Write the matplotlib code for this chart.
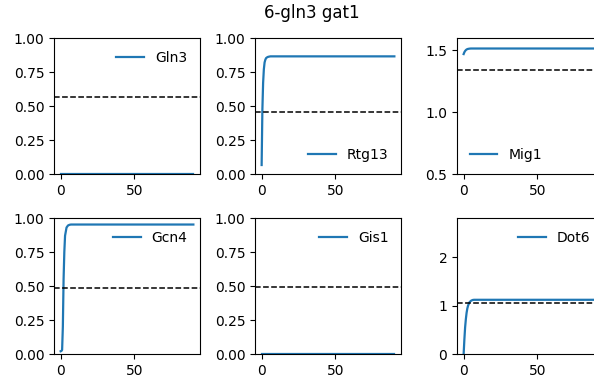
import matplotlib
matplotlib.use("Agg")
import matplotlib.pyplot as plt

title = "6-gln3 gat1"
names = ["Gln3", "Rtg13", "Mig1", "Gcn4", "Gis1", "Dot6"]

t = [0, 0.5, 1, 1.5, 2, 2.5, 3, 4, 5, 6, 7, 8, 10, 20, 40, 60, 90]

gln3 = [0, 0, 0, 0, 0, 0, 0, 0, 0, 0, 0, 0, 0, 0, 0, 0, 0]
rtg13 = [0.066, 0.47, 0.67, 0.77, 0.82, 0.84, 0.852, 0.86, 0.863, 0.865, 0.865, 0.865, 0.865, 0.865, 0.865, 0.865, 0.865]
mig1 = [1.47, 1.485, 1.495, 1.502, 1.507, 1.510, 1.512, 1.514, 1.515, 1.515, 1.515, 1.515, 1.515, 1.515, 1.515, 1.515, 1.515]
gcn4 = [0.02, 0.022, 0.03, 0.2, 0.55, 0.75, 0.87, 0.93, 0.945, 0.95, 0.952, 0.952, 0.952, 0.952, 0.952, 0.952, 0.952]
gis1 = [0, 0, 0, 0, 0, 0, 0, 0, 0, 0, 0, 0, 0, 0, 0, 0, 0]
dot6 = [0.0, 0.3, 0.55, 0.72, 0.85, 0.94, 1.0, 1.07, 1.1, 1.115, 1.12, 1.12, 1.12, 1.12, 1.12, 1.12, 1.12]

series = [gln3, rtg13, mig1, gcn4, gis1, dot6]
thresholds = [0.565, 0.455, 1.343, 0.485, 0.495, 1.05]
ylims = [(0, 1), (0, 1), (0.5, 1.6), (0, 1), (0, 1), (0, 2.81)]
legend_locs = ["upper right", "lower right", "lower left", "upper right", "upper right", "upper right"]

W, H = 594, 379
fig = plt.figure(figsize=(W / 100, H / 100), dpi=100)

lefts = [54, 255, 457]
tops = [38, 218]
aw, ah = 146, 136

for i, (name, vals) in enumerate(zip(names, series)):
    r, c = divmod(i, 3)
    ax = fig.add_axes([lefts[c] / W, 1 - (tops[r] + ah) / H, aw / W, ah / H])
    ax.plot(t, vals, color="#1f77b4", lw=1.6, label=name)
    ax.axhline(thresholds[i], color="black", ls="--", lw=1.1)
    ax.set_ylim(*ylims[i])
    ax.set_xticks([0, 50])
    if i == 2:
        ax.set_yticks([0.5, 1.0, 1.5])
    if i == 5:
        ax.set_yticks([0, 1, 2])
    ax.legend(loc=legend_locs[i], frameon=False, fontsize=10)

fig.suptitle(title, x=312 / W, y=1 - 13 / H, va="center", fontsize=12)

fig.savefig("out.png", dpi=100)
